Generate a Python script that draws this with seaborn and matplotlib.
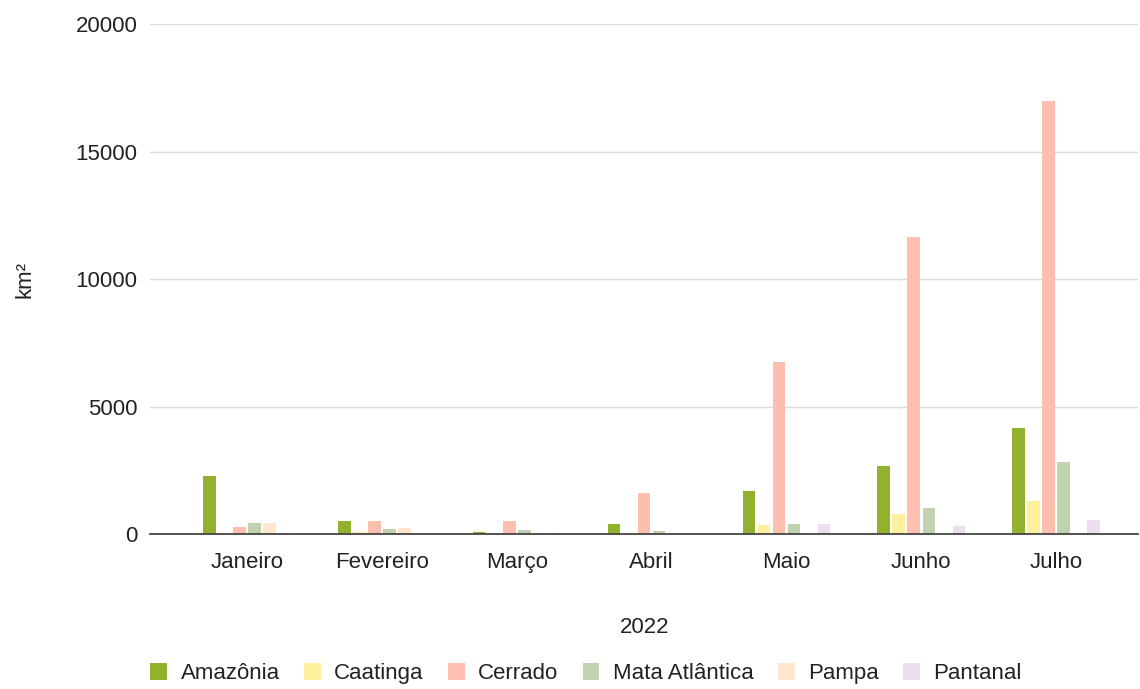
import matplotlib
matplotlib.use("Agg")
import matplotlib.pyplot as plt
import seaborn as sns
import pandas as pd

months = ["Janeiro", "Fevereiro", "Março", "Abril", "Maio", "Junho", "Julho"]
biomes = ["Amazônia", "Caatinga", "Cerrado", "Mata Atlântica", "Pampa", "Pantanal"]
amazonia = [2260, 500, 60, 400, 1700, 2680, 4140]
caatinga = [20, 60, 10, 50, 350, 800, 1290]
cerrado = [290, 500, 500, 1600, 6750, 11650, 17000]
mata_atlantica = [440, 190, 150, 130, 400, 1020, 2840]
pampa = [440, 240, 20, 10, 30, 10, 10]
pantanal = [50, 10, 20, 10, 400, 300, 560]
colors = ["#92b12f", "#fff09e", "#ffbfae", "#c1d2b0", "#ffe6cd", "#ecdeee"]

series = [amazonia, caatinga, cerrado, mata_atlantica, pampa, pantanal]
rows = []
for b, vals in zip(biomes, series):
    for m, v in zip(months, vals):
        rows.append({"Mês": m, "Bioma": b, "km²": v})
df = pd.DataFrame(rows)

sns.set_theme(style="white")
plt.rcParams["font.family"] = ["Liberation Sans", "DejaVu Sans"]

FS = 16
fig = plt.figure(figsize=(11.4, 6.89), dpi=100)
ax = fig.add_axes([0.1316, 0.225, 0.867, 0.74])
sns.barplot(data=df, x="Mês", y="km²", hue="Bioma", order=months, hue_order=biomes,
            palette=colors, width=0.67, ax=ax, saturation=1, legend=True)
for p in ax.patches:
    w = p.get_width()
    p.set_x(p.get_x() + w * 0.08)
    p.set_width(w * 0.84)
    p.set_linewidth(0)

ax.set_ylim(0, 20000)
ax.set_yticks([0, 5000, 10000, 15000, 20000])
ax.set_xlim(-0.72, 6.61)
ax.yaxis.grid(True, color="#d9d9d9", linewidth=1)
ax.set_axisbelow(True)
for s in ["top", "right", "left"]:
    ax.spines[s].set_visible(False)
ax.spines["bottom"].set_color("#444444")
ax.spines["bottom"].set_linewidth(1.3)
ax.tick_params(axis="both", length=0, labelsize=FS, colors="#222222")
ax.tick_params(axis="x", pad=13)
ax.tick_params(axis="y", pad=9)
ax.set_xlabel("2022", fontsize=FS, color="#222222", labelpad=32)
ax.set_ylabel("km²", fontsize=FS, color="#222222", labelpad=29)

handles, labels = ax.get_legend_handles_labels()
ax.get_legend().remove()
fig.legend(handles, labels, loc="lower center", bbox_to_anchor=(0.514, -0.022), ncol=6,
           frameon=False, fontsize=FS, handlelength=0.75, handleheight=0.75,
           handletextpad=0.6, columnspacing=1.1, labelcolor="#222222")

fig.savefig("out.png", dpi=100)
